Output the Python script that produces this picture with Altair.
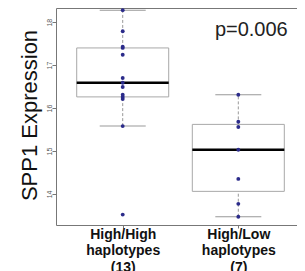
import altair as alt
import pandas as pd

groups = ["High/High\nhaplotypes\n(13)", "High/Low\nhaplotypes\n(7)"]
high_high = [13.52, 15.58, 16.21, 16.26, 16.31, 16.49, 16.59, 16.70, 17.24, 17.40, 17.43, 17.79, 18.28]
high_low = [13.47, 13.77, 14.35, 15.03, 15.56, 15.68, 16.31]
y_ticks = [14, 15, 16, 17, 18]
annotation_text = ["p=0.006"]
annotation_y = [17.685]

df = pd.DataFrame({
    "group": [groups[0]] * len(high_high) + [groups[1]] * len(high_low),
    "value": high_high + high_low,
})
ann = pd.DataFrame({"group": [groups[1]], "value": annotation_y, "label": annotation_text})

xenc = alt.X(
    "group:N",
    sort=groups,
    scale=alt.Scale(type="point", padding=0.5424, align=0.532),
    axis=alt.Axis(
        title=None,
        labelExpr="split(datum.label, '\\n')",
        labelAngle=0,
        labelFont="Liberation Sans",
        labelFontWeight="bold",
        labelFontSize=14,
        labelLineHeight=16.5,
        labelColor="#111111",
        labelPadding=-1,
        tickSize=3,
        tickColor="#777777",
        domain=False,
    ),
)
yscale = alt.Scale(domain=[13.277, 18.33], nice=False, zero=False)
yaxis = alt.Axis(
    title="SPP1 Expression",
    values=y_ticks,
    grid=False,
    domain=False,
    tickSize=4,
    tickColor="#777777",
    labelAngle=-90,
    labelFontSize=7,
    labelColor="#555555",
    labelPadding=0,
    titleFont="Liberation Sans",
    titleFontSize=22,
    titleFontWeight="normal",
    titleColor="#111111",
    titleX=-27,
    titleY=107,
    titleBaseline="middle",
    titleAlign="center",
    titleAngle=270,
)

box = alt.Chart(df).mark_boxplot(
    extent=1.5,
    size=92,
    outliers=False,
    box=alt.MarkConfig(fill="white", stroke="#a8a8a8", strokeWidth=1),
    median=False,
    rule=alt.MarkConfig(color="#999999", strokeDash=[3, 2], strokeWidth=1),
    ticks=alt.MarkConfig(color="#999999", size=46),
).encode(x=xenc, y=alt.Y("value:Q", scale=yscale, axis=yaxis))

med = alt.Chart(df).mark_tick(color="black", thickness=2.5, size=92, opacity=1).encode(
    x=alt.X("group:N", sort=groups), y=alt.Y("median(value):Q")
)

pts = alt.Chart(df).mark_circle(size=15, color="#2b2b8a", opacity=1).encode(
    x=alt.X("group:N", sort=groups), y=alt.Y("value:Q")
)

txt = alt.Chart(ann).mark_text(
    font="Liberation Sans", fontSize=20, color="#222222", dx=13, baseline="alphabetic", align="center"
).encode(x=alt.X("group:N", sort=groups), y=alt.Y("value:Q"), text="label:N")

chart = alt.layer(box, med, pts, txt).properties(
    width=241,
    height=217,
    autosize=alt.AutoSizeParams(type="none"),
    padding={"left": 48, "top": 0, "right": 0, "bottom": 46},
).configure_view(stroke="#777777", strokeWidth=1)

chart.save("out.html", embed_options={"renderer": "svg", "actions": False})
